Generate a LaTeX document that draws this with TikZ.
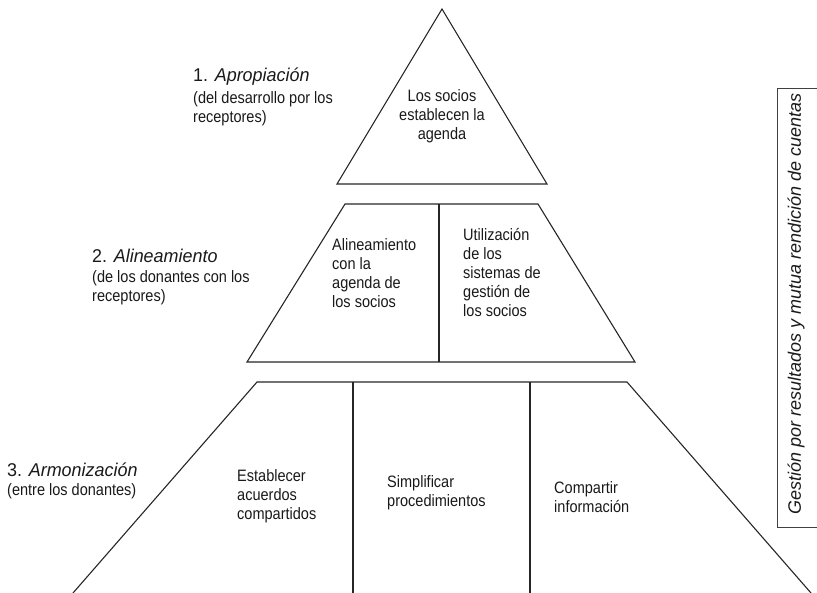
\documentclass[tikz,border=0pt]{standalone}
\usepackage{fontspec}
\setmainfont{Liberation Sans}
\newfontfamily\narrowfont[FakeStretch=0.88]{Liberation Sans}
\newfontfamily\headfont[FakeStretch=0.97]{Liberation Sans}
\begin{document}
\begin{tikzpicture}[x=1pt,y=-1pt,
  edge/.style={line width=1.1pt, draw=black!85, line join=miter},
  body/.style={font=\narrowfont\fontsize{16.5}{19}\selectfont, inner sep=0pt, align=left, text=black!90},
  bodyc/.style={body, align=center},
  head/.style={font=\headfont\fontsize{18.5}{22}\selectfont, inner sep=0pt, anchor=west, text=black!90},
  sub/.style={body, anchor=west},
  side/.style={font=\fontsize{18}{20}\selectfont\itshape, inner sep=0pt, rotate=90, text=black!90}]
\useasboundingbox (0,0) rectangle (817,592);
% triangle
\coordinate (tA) at (442,9);
\coordinate (tL) at (337,184);
\coordinate (tR) at (547,184);
\draw[edge] (tA) -- (tL) -- (tR) -- cycle;
% trapezoid 2
\coordinate (aTL) at (345,204);
\coordinate (aTR) at (538,204);
\coordinate (aBL) at (247,362);
\coordinate (aBR) at (635,362);
\coordinate (aDT) at (439,204);
\coordinate (aDB) at (439,362);
\draw[edge] (aTL) -- (aTR) -- (aBR) -- (aBL) -- cycle;
\draw[edge] (aDT) -- (aDB);
% trapezoid 3
\coordinate (bTL) at (257,382);
\coordinate (bTR) at (627,382);
\coordinate (bBL) at (73,593);
\coordinate (bBR) at (811,593);
\coordinate (bD1T) at (353,382);
\coordinate (bD1B) at (353,593);
\coordinate (bD2T) at (530,382);
\coordinate (bD2B) at (530,593);
\draw[edge] (bBL) -- (bTL) -- (bTR) -- (bBR);
\draw[edge] (bD1T) -- (bD1B);
\draw[edge] (bD2T) -- (bD2B);
% side box
\coordinate (sT) at (818,88);
\coordinate (sTL) at (777,88);
\coordinate (sBL) at (777,527);
\coordinate (sB) at (818,527);
\draw[line width=0.9pt, draw=black!75] (sT) -- (sTL) -- (sBL) -- (sB);
\node[side] (gest) at (796,304) {Gestión por resultados y mutua rendición de cuentas};
% texts inside
\node[bodyc] (t1) at (442,116) {Los socios\\establecen la\\agenda};
\node[body, anchor=west] (t2a) at (332,273) {Alineamiento\\con la\\agenda de\\los socios};
\node[body, anchor=west] (t2b) at (463,273) {Utilización\\de los\\sistemas de\\gestión de\\los socios};
\node[body, anchor=west] (t3a) at (237,496) {Establecer\\acuerdos\\compartidos};
\node[body, anchor=west] (t3b) at (387,493) {Simplificar\\procedimientos};
\node[body, anchor=west] (t3c) at (554,497) {Compartir\\información};
% left labels
\node[head] (h1) at (193,77) {1. \textit{Apropiación}};
\node[sub] (s1) at (193,109) {(del desarrollo por los\\receptores)};
\node[head] (h2) at (92,256) {2. \textit{Alineamiento}};
\node[sub] (s2) at (92,288) {(de los donantes con los\\receptores)};
\node[head] (h3) at (7,470) {3. \textit{Armonización}};
\node[sub] (s3) at (7,491) {(entre los donantes)};
\end{tikzpicture}
\end{document}
